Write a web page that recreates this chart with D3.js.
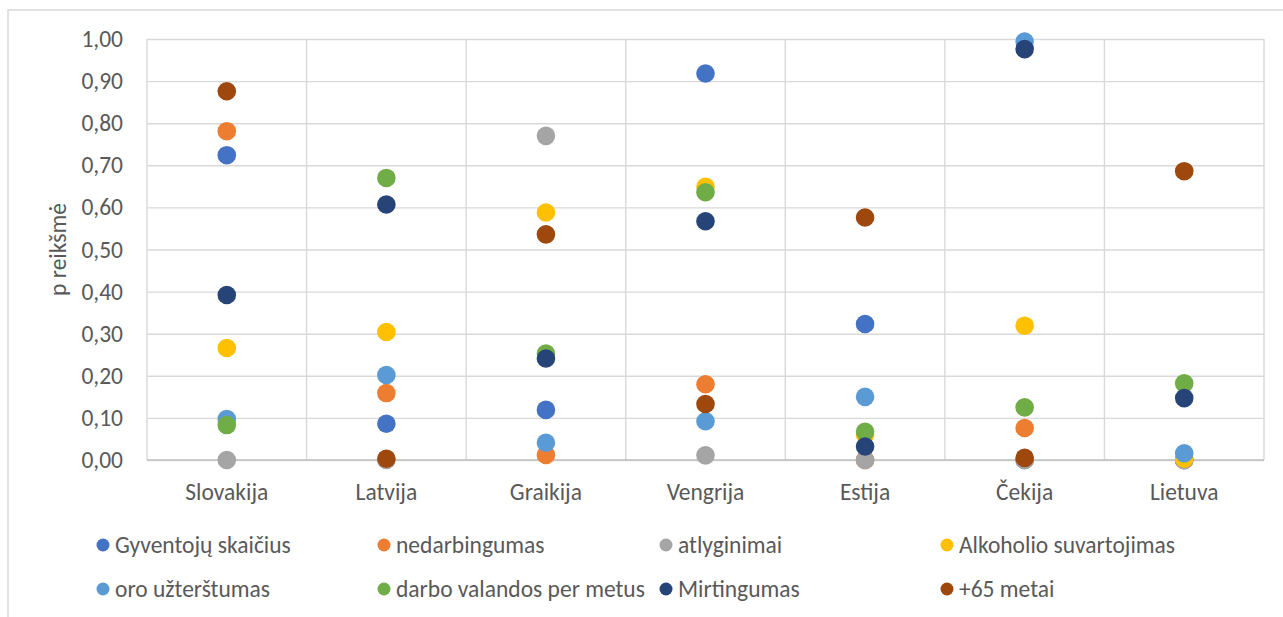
<!DOCTYPE html>
<meta charset="utf-8">
<style>
body { margin: 0; background: #fff; }
svg text { font-family: Carlito, Calibri, Lato, sans-serif; fill: #595959; }
.grid line { stroke: #d9d9d9; stroke-width: 1.4px; }
.grid path { display: none; }
</style>
<svg width="1283" height="617"></svg>
<script src="https://cdn.jsdelivr.net/npm/d3@7"></script>
<script>
// categories (countries) along x
var countries = ["Slovakija", "Latvija", "Graikija", "Vengrija", "Estija", "Čekija", "Lietuva"];

// p values, one list per factor, in country order
var gyventojuSkaicius = [0.724, 0.086, 0.119, 0.918, 0.323, 0.000, 0.000];
var nedarbingumas     = [0.781, 0.159, 0.012, 0.180, 0.000, 0.076, 0.000];
var atlyginimai       = [0.000, 0.000, 0.770, 0.011, 0.000, 0.000, 0.000];
var alkoholis         = [0.266, 0.304, 0.588, 0.649, 0.060, 0.319, 0.003];
var oroUztersumas     = [0.097, 0.202, 0.041, 0.092, 0.150, 0.994, 0.016];
var darboValandos     = [0.083, 0.670, 0.253, 0.636, 0.067, 0.125, 0.182];
var mirtingumas       = [0.392, 0.607, 0.241, 0.567, 0.032, 0.976, 0.147];
var virs65            = [0.876, 0.003, 0.536, 0.133, 0.576, 0.005, 0.686];

var yTicks = [0, 0.1, 0.2, 0.3, 0.4, 0.5, 0.6, 0.7, 0.8, 0.9, 1.0];

var series = [
  { name: "Gyventojų skaičius", color: "#4472c4", values: gyventojuSkaicius },
  { name: "nedarbingumas", color: "#ed7d31", values: nedarbingumas },
  { name: "atlyginimai", color: "#a5a5a5", values: atlyginimai },
  { name: "Alkoholio suvartojimas", color: "#ffc000", values: alkoholis },
  { name: "oro užterštumas", color: "#5b9bd5", values: oroUztersumas },
  { name: "darbo valandos per metus", color: "#70ad47", values: darboValandos },
  { name: "Mirtingumas", color: "#264478", values: mirtingumas },
  { name: "+65 metai", color: "#9e480e", values: virs65 }
];

var svg = d3.select("svg");
var plotLeft = 147, plotRight = 1264, plotTop = 39, plotBottom = 460;
var fontSize = "23.5px";

// chart frame (runs off the right and bottom edges)
svg.append("rect")
    .attr("x", 8).attr("y", 10)
    .attr("width", 1300).attr("height", 640)
    .attr("fill", "none")
    .attr("stroke", "#d9d9d9")
    .attr("stroke-width", 1.5);

var x = d3.scaleBand().domain(countries).range([plotLeft, plotRight]).padding(0);
var y = d3.scaleLinear().domain([0, 1]).range([plotBottom, plotTop]);
var fmt = function(d) { return d3.format(".2f")(d).replace(".", ","); };

// horizontal gridlines + y labels
var yAxis = svg.append("g")
    .attr("class", "grid")
    .attr("transform", "translate(" + plotLeft + ",0)")
    .call(d3.axisLeft(y).tickValues(yTicks).tickSize(-(plotRight - plotLeft)).tickPadding(24).tickFormat(fmt));
yAxis.selectAll("text").style("font-size", fontSize).attr("fill", "#595959");

// vertical gridlines at category boundaries
svg.append("g").attr("class", "grid")
  .selectAll("line")
  .data(countries.concat([null]))
  .enter().append("line")
    .attr("x1", function(d) { return d ? x(d) : plotRight; })
    .attr("x2", function(d) { return d ? x(d) : plotRight; })
    .attr("y1", plotTop)
    .attr("y2", plotBottom);

// x axis line
svg.append("line")
    .attr("x1", plotLeft).attr("x2", plotRight)
    .attr("y1", plotBottom).attr("y2", plotBottom)
    .attr("stroke", "#bfbfbf").attr("stroke-width", 1.5);

// category labels
svg.append("g")
  .selectAll("text")
  .data(countries)
  .enter().append("text")
    .attr("x", function(d) { return x(d) + x.bandwidth() / 2; })
    .attr("y", plotBottom + 32)
    .attr("text-anchor", "middle")
    .attr("dominant-baseline", "central")
    .style("font-size", fontSize)
    .text(function(d) { return d; });

// axis title
svg.append("text")
    .attr("transform", "translate(58," + ((plotTop + plotBottom) / 2) + ") rotate(-90)")
    .attr("text-anchor", "middle")
    .attr("dominant-baseline", "central")
    .style("font-size", fontSize)
    .text("p reikšmė");

// points, series drawn in order so later ones sit on top
series.forEach(function(s) {
  svg.append("g")
    .selectAll("circle")
    .data(s.values)
    .enter().append("circle")
      .attr("cx", function(d, i) { return x(countries[i]) + x.bandwidth() / 2; })
      .attr("cy", function(d) { return y(d); })
      .attr("r", 9.3)
      .attr("fill", s.color);
});

// legend, 4 columns x 2 rows
var legendCols = [103, 384, 666, 947], legendRows = [545, 589];
var item = svg.append("g").selectAll("g")
  .data(series)
  .enter().append("g")
    .attr("transform", function(d, i) {
      return "translate(" + legendCols[i % 4] + "," + legendRows[Math.floor(i / 4)] + ")";
    });
item.append("circle").attr("r", 6.5).attr("fill", function(d) { return d.color; });
item.append("text")
    .attr("x", 12)
    .attr("dominant-baseline", "central")
    .style("font-size", fontSize)
    .text(function(d) { return d.name; });
</script>
